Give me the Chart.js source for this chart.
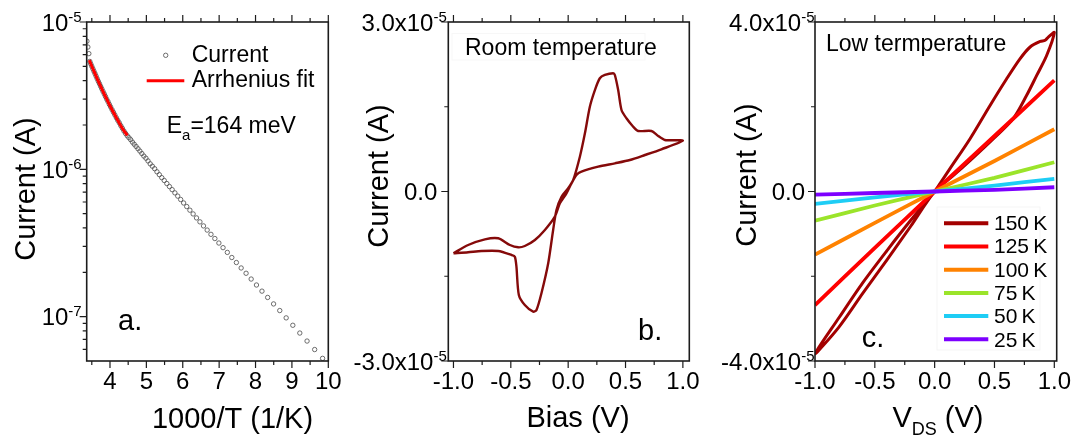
<!DOCTYPE html>
<html>
<head>
<meta charset="utf-8">
<script src="https://cdn.jsdelivr.net/npm/chart.js@4.4.0/dist/chart.umd.min.js"></script>
<style>
  html, body { margin: 0; padding: 0; background: #fff; }
  #wrap { position: relative; width: 1079px; height: 441px; overflow: hidden; }
  #wrap canvas { position: absolute; left: 0; top: 0; }
</style>
</head>
<body>
<div id="wrap">
  <canvas id="cA" width="1079" height="441"></canvas>
  <canvas id="cB" width="1079" height="441"></canvas>
  <canvas id="cC" width="1079" height="441"></canvas>
</div>
<script>
/* ---------- panel a : current vs 1000/T ---------- */
const aInvT = [3.366,3.392,3.419,3.446,3.473,3.501,3.530,3.559,3.588,3.618,
               3.648,3.679,3.711,3.743,3.775,3.808,3.842,3.876,3.911,3.946,
               3.982,4.019,4.057,4.095,4.134,4.174,4.214,4.255,4.297,4.340,
               4.384,4.429,4.474,4.521,4.568,4.617,4.666,4.717,4.769,4.822,
               4.876,4.931,4.988,5.045,5.105,5.165,5.227,5.291,5.356,5.423,
               5.491,5.562,5.634,5.708,5.784,5.862,5.942,6.024,6.109,6.196,
               6.285,6.378,6.472,6.570,6.671,6.775,6.882,6.993,7.107,7.225,
               7.348,7.474,7.605,7.740,7.880,8.026,8.177,8.333,8.496,8.666,
               8.842,9.025,9.217,9.416,9.625,9.843];
const aCurr = [7.41e-6,6.76e-6,6.10e-6,5.40e-6,5.19e-6,5.00e-6,4.81e-6,4.63e-6,4.46e-6,4.29e-6,
               4.12e-6,3.96e-6,3.81e-6,3.66e-6,3.52e-6,3.38e-6,3.25e-6,3.12e-6,2.99e-6,2.88e-6,
               2.76e-6,2.65e-6,2.54e-6,2.44e-6,2.34e-6,2.24e-6,2.15e-6,2.07e-6,1.98e-6,1.90e-6,
               1.82e-6,1.75e-6,1.69e-6,1.64e-6,1.59e-6,1.53e-6,1.48e-6,1.43e-6,1.38e-6,1.33e-6,
               1.28e-6,1.23e-6,1.19e-6,1.14e-6,1.09e-6,1.05e-6,1.01e-6,9.62e-7,9.20e-7,8.78e-7,
               8.40e-7,8.01e-7,7.64e-7,7.28e-7,6.92e-7,6.58e-7,6.24e-7,5.91e-7,5.59e-7,5.28e-7,
               4.98e-7,4.68e-7,4.40e-7,4.13e-7,3.87e-7,3.62e-7,3.39e-7,3.16e-7,2.94e-7,2.73e-7,
               2.52e-7,2.33e-7,2.14e-7,1.97e-7,1.80e-7,1.64e-7,1.49e-7,1.35e-7,1.22e-7,1.10e-7,
               9.81e-8,8.74e-8,7.74e-8,6.83e-8,5.98e-8,5.21e-8];
const aFitX  = [3.43,3.5,3.6,3.7,3.8,3.9,4.0,4.1,4.2,4.3,4.4,4.48];
const aFitY  = [5.51e-6,5.01e-6,4.39e-6,3.86e-6,3.41e-6,3.03e-6,2.70e-6,2.42e-6,2.18e-6,1.97e-6,1.80e-6,1.70e-6];
const aXTicks = [4,5,6,7,8,9,10];
const aXMinor = [3.5,4.5,5.5,6.5,7.5,8.5,9.5];
const aYTicks = [1e-5,1e-6,1e-7];
const aYMinor = [9e-6,8e-6,7e-6,6e-6,5e-6,4e-6,3e-6,2e-6,
                 9e-7,8e-7,7e-7,6e-7,5e-7,4e-7,3e-7,2e-7,
                 9e-8,8e-8,7e-8,6e-8];
const aYLabels = [['10','-5'],['10','-6'],['10','-7']];

/* ---------- panel b : room temperature loop ---------- */
const bBias = [-1.0,-0.872,-0.756,-0.610,-0.494,-0.465,-0.451,-0.430,-0.378,-0.305,
               -0.276,-0.233,-0.174,-0.131,-0.102,-0.058,0.0,0.044,0.102,0.146,
               0.189,0.233,0.276,0.320,0.392,0.407,0.436,0.465,0.508,0.567,
               0.610,0.726,0.785,0.843,1.0,0.813,0.669,0.538,0.407,0.262,
               0.116,0.072,0.029,-0.015,-0.072,-0.116,-0.203,-0.290,-0.378,-0.436,
               -0.508,-0.610,-0.726,-0.872,-1.0];
const bCurr = [-1.094e-5,-1.076e-5,-1.053e-5,-1.053e-5,-1.124e-5,-1.154e-5,-1.331e-5,-1.832e-5,-2.009e-5,-2.127e-5,
               -2.097e-5,-1.802e-5,-1.271e-5,-0.681e-5,-0.327e-5,-0.092e-5,0.057e-5,0.204e-5,0.616e-5,1.030e-5,
               1.501e-5,1.796e-5,2.004e-5,2.062e-5,2.092e-5,2.062e-5,1.796e-5,1.442e-5,1.296e-5,1.147e-5,
               1.071e-5,1.071e-5,0.982e-5,0.912e-5,0.899e-5,0.747e-5,0.646e-5,0.558e-5,0.499e-5,0.439e-5,
               0.350e-5,0.292e-5,0.145e-5,-0.032e-5,-0.209e-5,-0.446e-5,-0.681e-5,-0.858e-5,-0.965e-5,-0.988e-5,
               -0.947e-5,-0.828e-5,-0.846e-5,-0.947e-5,-1.094e-5];
const bXTicks = [-1,-0.5,0,0.5,1];
const bXMinor = [-0.75,-0.25,0.25,0.75];
const bYTicks = [3e-5,0,-3e-5];
const bYMinor = [1.5e-5,-1.5e-5];
const bYLabels = [['3.0x10','-5'],['0.0',''],['-3.0x10','-5']];

/* ---------- panel c : low temperature ---------- */
const c150V = [0,0.128,0.296,0.463,0.602,0.713,0.798,0.882,0.924,0.952,1.0,
               0.936,0.853,0.769,0.657,0.5,0.3,0.15,0,
               -0.2,-0.4,-0.6,-0.8,-1.0,-0.8,-0.6,-0.4,-0.2,0];
const c150I = [0,0.54e-5,1.246e-5,2.03e-5,2.66e-5,3.13e-5,3.41e-5,3.54e-5,3.57e-5,3.65e-5,3.75e-5,
               3.21e-5,2.74e-5,2.27e-5,1.72e-5,1.27e-5,0.74e-5,0.36e-5,0,
               -0.82e-5,-1.62e-5,-2.40e-5,-3.20e-5,-3.83e-5,-2.98e-5,-2.15e-5,-1.40e-5,-0.68e-5,0];
const cV    = [-1,-0.5,0,0.5,1];
const c125I = [-2.68e-5,-1.33e-5,0,1.31e-5,2.62e-5];
const c100I = [-1.49e-5,-0.74e-5,0,0.72e-5,1.47e-5];
const c75I  = [-0.69e-5,-0.33e-5,0,0.32e-5,0.69e-5];
const c50I  = [-0.29e-5,-0.14e-5,0,0.14e-5,0.30e-5];
const c25I  = [-0.075e-5,-0.035e-5,0,0.04e-5,0.10e-5];
const cLabels = ['150\u2009K','125\u2009K','100\u2009K','75\u2009K','50\u2009K','25\u2009K'];
const cColors = ['#a30000','#ff0000','#ff8200','#9be42a','#1ecdf5','#7d00ff'];
const cXTicks = [-1,-0.5,0,0.5,1];
const cXMinor = [-0.75,-0.25,0.25,0.75];
const cYTicks = [4e-5,0,-4e-5];
const cYMinor = [2e-5,-2e-5];
const cYLabels = [['4.0x10','-5'],['0.0',''],['-4.0x10','-5']];

/* ---------- helpers ---------- */
const FONT = '"Liberation Sans", Arial, sans-serif';
const pts = (xs, ys) => xs.map((x, i) => ({x, y: ys[i]}));

function drawRich(ctx, t){
  ctx.save();
  ctx.translate(t.x, t.y);
  if (t.rot) ctx.rotate(t.rot);
  let w = 0;
  t.parts.forEach(p => { ctx.font = p[1] + 'px ' + FONT; w += ctx.measureText(p[0]).width; });
  let x = t.align === 'center' ? -w / 2 : 0;
  ctx.textAlign = 'left'; ctx.textBaseline = 'alphabetic'; ctx.fillStyle = '#000';
  t.parts.forEach(p => {
    ctx.font = p[1] + 'px ' + FONT;
    ctx.fillText(p[0], x, p[2] || 0);
    x += ctx.measureText(p[0]).width;
  });
  ctx.restore();
}

/* frame, tick marks, y labels, notes */
function makeDeco(cfg){
  return {
    id: 'deco',
    afterDraw(chart){
      const ctx = chart.ctx, a = chart.chartArea;
      const xs = chart.scales.x, ys = chart.scales.y;
      ctx.save();
      ctx.strokeStyle = '#1c1c1c';
      ctx.lineWidth = 1.2;
      ctx.beginPath();
      const xt = (v, len) => {
        const p = xs.getPixelForValue(v);
        ctx.moveTo(p, a.bottom); ctx.lineTo(p, a.bottom + len);
        ctx.moveTo(p, a.top);    ctx.lineTo(p, a.top - len);
      };
      const yt = (v, len) => {
        const p = ys.getPixelForValue(v);
        ctx.moveTo(a.left, p); ctx.lineTo(a.left - len, p);
      };
      cfg.xMajor.forEach(v => xt(v, 7));
      cfg.xMinor.forEach(v => xt(v, 4));
      cfg.yMajor.forEach(v => yt(v, 7));
      cfg.yMinor.forEach(v => yt(v, 4));
      ctx.stroke();
      ctx.lineWidth = 1.6;
      ctx.strokeRect(a.left, a.top, a.right - a.left, a.bottom - a.top);

      // y tick labels with superscripts
      ctx.fillStyle = '#000';
      ctx.textAlign = 'left'; ctx.textBaseline = 'alphabetic';
      cfg.yMajor.forEach((v, i) => {
        const py = ys.getPixelForValue(v);
        const [base, sup] = cfg.yLabels[i];
        const xr = a.left - (sup ? cfg.supGap : cfg.plainGap);
        ctx.font = '15px ' + FONT;
        const ws = sup ? ctx.measureText(sup).width : 0;
        ctx.font = '24px ' + FONT;
        const wb = ctx.measureText(base).width;
        ctx.fillText(base, xr - ws - wb, py + 8.5);
        if (sup){ ctx.font = '15px ' + FONT; ctx.fillText(sup, xr - ws, py - 0.5); }
      });

      if (cfg.extra) cfg.extra(ctx, chart);
      cfg.notes.forEach(t => drawRich(ctx, t));
      ctx.restore();
    }
  };
}

function xAxis(min, max, ticks, fmt){
  return {
    type: 'linear', min, max,
    afterBuildTicks: s => { s.ticks = ticks.map(v => ({value: v})); },
    afterFit: s => { s.height = 80; s.paddingLeft = 0; s.paddingRight = 0; },
    ticks: { color: '#000', font: {family: FONT, size: 24}, padding: 7,
             maxRotation: 0, autoSkip: false, callback: fmt },
    grid: { display: false, drawTicks: false },
    border: { display: false }
  };
}
function yAxis(type, min, max, width){
  return {
    type, min, max,
    afterFit: s => { s.width = width; s.paddingTop = 0; s.paddingBottom = 0; },
    ticks: { display: false },
    grid: { display: false, drawTicks: false },
    border: { display: false }
  };
}
function build(id, datasets, pad, x, y, deco){
  return new Chart(document.getElementById(id), {
    type: 'scatter',
    data: { datasets },
    options: {
      responsive: false, animation: false, devicePixelRatio: 1,
      layout: { padding: pad },
      plugins: { legend: {display: false}, tooltip: {enabled: false} },
      scales: { x, y }
    },
    plugins: [makeDeco(deco)]
  });
}

/* ---------- chart a ---------- */
build('cA', [
  { label: 'Arrhenius fit', data: pts(aFitX, aFitY), showLine: true, pointRadius: 0,
    borderColor: '#ff0000', borderWidth: 3, tension: 0.3, order: 0 },
  { label: 'Current', data: pts(aInvT, aCurr), pointRadius: 2.2, pointBorderWidth: 0.8,
    pointBorderColor: '#4a4a4a', pointBackgroundColor: 'rgba(0,0,0,0)', order: 1 }
], {left: 0, right: 1079 - 328.3, top: 22, bottom: 0},
  xAxis(3.36, 10, aXTicks, v => String(v)),
  yAxis('logarithmic', 5e-8, 1e-5, 86.7),
  { xMajor: aXTicks, xMinor: aXMinor, yMajor: aYTicks, yMinor: aYMinor, yLabels: aYLabels,
    supGap: 5, plainGap: 10,
    extra(ctx){
      ctx.strokeStyle = '#4a4a4a'; ctx.lineWidth = 0.8;
      ctx.beginPath(); ctx.arc(165.7, 55.3, 2.2, 0, Math.PI * 2); ctx.stroke();
      ctx.strokeStyle = '#ff0000'; ctx.lineWidth = 3;
      ctx.beginPath(); ctx.moveTo(146.7, 80.7); ctx.lineTo(184.3, 80.7); ctx.stroke();
    },
    notes: [
      {x: 191.7, y: 61.5, parts: [['Current', 23]]},
      {x: 191.7, y: 87.3, parts: [['Arrhenius fit', 23]]},
      {x: 166.7, y: 133, parts: [['E', 23], ['a', 15, 7], ['=164 meV', 23]]},
      {x: 118, y: 330, parts: [['a.', 29]]},
      {x: 35, y: 189, rot: -Math.PI / 2, align: 'center', parts: [['Current (A)', 29]]},
      {x: 232.5, y: 428, align: 'center', parts: [['1000/T (1/K)', 29]]}
    ] });

/* ---------- chart b ---------- */
build('cB', [
  { label: 'Room temperature', data: pts(bBias, bCurr), showLine: true, pointRadius: 0,
    borderColor: '#850a0a', borderWidth: 2.4, tension: 0.25 }
], {left: 0, right: 1079 - 689.3, top: 22, bottom: 0},
  xAxis(-1.045, 1.056, bXTicks, v => v.toFixed(1)),
  yAxis('linear', -3e-5, 3e-5, 448.3),
  { xMajor: bXTicks, xMinor: bXMinor, yMajor: bYTicks, yMinor: bYMinor, yLabels: bYLabels,
    supGap: 1.5, plainGap: 11,
    extra(ctx){
      ctx.strokeStyle = '#f7f7f7'; ctx.lineWidth = 1;
      ctx.strokeRect(452, 33.5, 193, 26.5);
    },
    notes: [
      {x: 465, y: 55, parts: [['Room temperature', 23]]},
      {x: 638, y: 340, parts: [['b.', 29]]},
      {x: 388, y: 176, rot: -Math.PI / 2, align: 'center', parts: [['Current (A)', 29]]},
      {x: 578, y: 427, align: 'center', parts: [['Bias (V)', 29]]}
    ] });

/* ---------- chart c ---------- */
const cSeries = [pts(c150V, c150I), pts(cV, c125I), pts(cV, c100I), pts(cV, c75I), pts(cV, c50I), pts(cV, c25I)];
const chartC = build('cC', cSeries.map((d, i) => ({
    label: cLabels[i], data: d, showLine: true, pointRadius: 0,
    borderColor: cColors[i], borderWidth: i === 0 ? 3 : 3.8,
    tension: i === 0 ? 0.3 : 0.15, order: 5 - i
  })),
  {left: 0, right: 1079 - 1056.7, top: 22, bottom: 0},
  xAxis(-1.0, 1.02, cXTicks, v => v.toFixed(1)),
  yAxis('linear', -4e-5, 4e-5, 815),
  { xMajor: cXTicks, xMinor: cXMinor, yMajor: cYTicks, yMinor: cYMinor, yLabels: cYLabels,
    supGap: 0.5, plainGap: 10,
    extra(ctx, chart){
      ctx.strokeStyle = '#f5f5f5'; ctx.lineWidth = 1;
      ctx.strokeRect(937, 207, 103, 143);
      chart.data.datasets.forEach((ds, i) => {
        const y = 223.3 + i * 23.2;
        ctx.strokeStyle = ds.borderColor; ctx.lineWidth = 4;
        ctx.beginPath(); ctx.moveTo(944, y); ctx.lineTo(988.3, y); ctx.stroke();
        ctx.fillStyle = '#000'; ctx.font = '21px ' + FONT;
        ctx.fillText(ds.label, 994, 230 + i * 23.3);
      });
    },
    notes: [
      {x: 826, y: 50.7, parts: [['Low termperature', 23]]},
      {x: 861.7, y: 346.7, parts: [['c.', 29]]},
      {x: 756, y: 175, rot: -Math.PI / 2, align: 'center', parts: [['Current (A)', 29]]},
      {x: 938, y: 427, align: 'center', parts: [['V', 29], ['DS', 18, 8], [' (V)', 29]]}
    ] });
</script>
</body>
</html>
